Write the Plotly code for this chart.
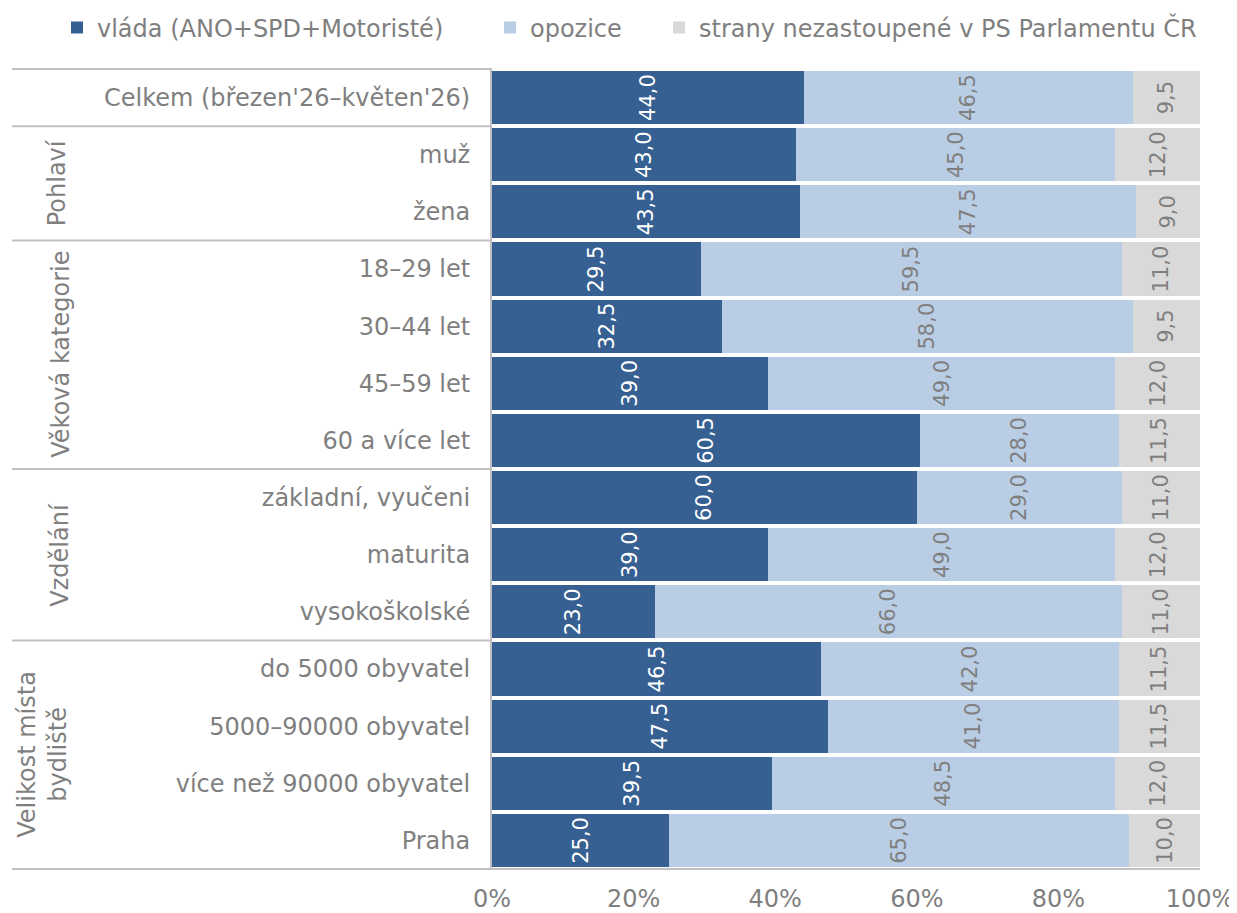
import plotly.graph_objects as go

categories = [
    "Celkem (březen'26–květen'26)",
    "muž", "žena",
    "18–29 let", "30–44 let", "45–59 let", "60 a více let",
    "základní, vyučeni", "maturita", "vysokoškolské",
    "do 5000 obyvatel", "5000–90000 obyvatel", "více než 90000 obyvatel", "Praha",
]
series_names = ["vláda (ANO+SPD+Motoristé)", "opozice", "strany nezastoupené v PS Parlamentu ČR"]
vlada = [44.0, 43.0, 43.5, 29.5, 32.5, 39.0, 60.5, 60.0, 39.0, 23.0, 46.5, 47.5, 39.5, 25.0]
opozice = [46.5, 45.0, 47.5, 59.5, 58.0, 49.0, 28.0, 29.0, 49.0, 66.0, 42.0, 41.0, 48.5, 65.0]
nezastoupene = [9.5, 12.0, 9.0, 11.0, 9.5, 12.0, 11.5, 11.0, 12.0, 11.0, 11.5, 11.5, 12.0, 10.0]
groups = [
    ("Pohlaví", 1, 2),
    ("Věková kategorie", 3, 6),
    ("Vzdělání", 7, 9),
    ("Velikost místa<br>bydliště", 10, 13),
]
x_ticks = [0, 20, 40, 60, 80, 100]
x_ticktext = ["0%", "20%", "40%", "60%", "80%", "100%"]

FONT = "DejaVu Sans"
GRAY = "#7F7F7F"
LINE = "#C0C0C0"
colors = ["#366092", "#B9CDE5", "#D9D9D9"]
text_colors = ["white", GRAY, GRAY]

OFF = 8  # page body offset
W, H = 1229, 905
L, T = 492 - OFF, 68 - OFF
R = W - (1200 - OFF)
B = H - (870 - OFF)
pw = W - L - R
ph = H - T - B


def px(x):
    return (x - OFF - L) / pw


def py(y):
    return 1 + (T - (y - OFF)) / ph


fig = go.Figure()
legends = ["legend", "legend2", "legend3"]
for name, vals, col, tcol, lg in zip(series_names, [vlada, opozice, nezastoupene], colors, text_colors, legends):
    fig.add_trace(go.Bar(
        y=categories, x=vals, name=name, orientation="h",
        marker=dict(color=col, line=dict(width=0)),
        texttemplate="%{x:.1f}", textposition="inside", textangle=-90,
        insidetextanchor="middle", constraintext="none",
        insidetextfont=dict(family=FONT, size=21, color=tcol),
        legend=lg, hoverinfo="skip",
    ))

bounds = [-0.5, 0.5] + [g[2] + 0.5 for g in groups]
for b in bounds:
    x1 = 1 if b == bounds[-1] else 0
    fig.add_shape(type="line", xref="paper", yref="y", x0=px(12), x1=x1, y0=b, y1=b,
                  line=dict(color=LINE, width=2), layer="above")

group_x = [57, 61, 60, 43]
for (gname, a, b), gx in zip(groups, group_x):
    fig.add_annotation(text=gname, xref="paper", yref="y", x=px(gx), y=(a + b) / 2,
                       textangle=-90, showarrow=False, xanchor="center", yanchor="middle",
                       font=dict(family=FONT, size=24, color=GRAY))

leg_common = dict(orientation="h", yanchor="middle", xanchor="left", y=py(28),
                  bgcolor="rgba(0,0,0,0)", font=dict(family=FONT, size=24, color=GRAY),
                  itemclick=False, itemdoubleclick=False)

fig.update_layout(
    width=W, height=H,
    template="none",
    barmode="stack", bargap=0.07,
    separators=", ",
    margin=dict(l=L, r=R, t=T, b=B, autoexpand=False),
    paper_bgcolor="white", plot_bgcolor="white",
    font=dict(family=FONT, size=24, color=GRAY),
    showlegend=True,
    legend=dict(x=px(57), **leg_common),
    legend2=dict(x=px(490), **leg_common),
    legend3=dict(x=px(659), **leg_common),
    xaxis=dict(range=[0, 100], tickvals=x_ticks, ticktext=x_ticktext, showgrid=False, zeroline=False,
               showline=False, ticks="", ticklabelstandoff=12,
               tickfont=dict(family=FONT, size=24, color=GRAY), automargin=False, fixedrange=True),
    yaxis=dict(autorange="reversed", type="category", showgrid=False, zeroline=False,
               showline=True, linecolor=LINE, linewidth=2, ticks="", ticklabelstandoff=15,
               tickfont=dict(family=FONT, size=24, color=GRAY), automargin=False, fixedrange=True),
)

fig.write_html("out.html")
